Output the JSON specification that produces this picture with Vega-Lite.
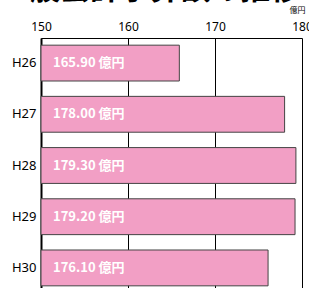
{
  "$schema": "https://vega.github.io/schema/vega-lite/v6.json",
  "autosize": "none",
  "width": 261,
  "height": 255,
  "padding": {"left": 41, "top": 38, "right": 7, "bottom": 0},
  "background": "white",
  "title": {
    "text": "一般会計予算額の推移",
    "font": "Noto Sans CJK JP",
    "fontSize": 30,
    "fontWeight": "bold",
    "color": "black",
    "anchor": "start",
    "frame": "group",
    "orient": "top",
    "offset": 0,
    "dx": -41,
    "dy": -1
  },
  "config": {
    "view": {"stroke": null},
    "font": "Noto Sans CJK JP"
  },
  "data": {
    "values": [
      {"year": "H26", "value": 165.9, "label": "165.90 億円"},
      {"year": "H27", "value": 178.0, "label": "178.00 億円"},
      {"year": "H28", "value": 179.3, "label": "179.30 億円"},
      {"year": "H29", "value": 179.2, "label": "179.20 億円"},
      {"year": "H30", "value": 176.1, "label": "176.10 億円"}
    ]
  },
  "encoding": {
    "y": {
      "field": "year",
      "type": "nominal",
      "sort": null,
      "scale": {"paddingInner": 0.3, "paddingOuter": 0.14},
      "axis": {
        "title": null,
        "ticks": false,
        "domainColor": "black",
        "domainWidth": 2,
        "labelFont": "Noto Sans",
        "labelFontSize": 13,
        "labelColor": "black",
        "labelPadding": 5
      }
    }
  },
  "layer": [
    {
      "mark": {"type": "bar", "color": "#F29FC5", "stroke": "#444444", "strokeWidth": 1},
      "encoding": {
        "x": {
          "field": "value",
          "type": "quantitative",
          "scale": {"domain": [150, 180], "zero": false, "nice": false},
          "axis": {
            "orient": "top",
            "values": [150, 160, 170, 180],
            "grid": true,
            "gridColor": "black",
            "gridWidth": 1,
            "gridOpacity": 1,
            "ticks": false,
            "domainColor": "black",
            "domainWidth": 1,
            "labelFont": "Noto Sans",
            "labelFontSize": 12,
            "labelColor": "black",
            "labelPadding": 5,
            "labelFlush": false,
            "title": "億円",
            "titleFontSize": 8,
            "titleFontWeight": "normal",
            "titleColor": "black",
            "titleAnchor": "end",
            "titleAlign": "right",
            "titleX": 264,
            "titleY": -24,
            "titleBaseline": "bottom"
          }
        },
        "x2": {"datum": 150}
      }
    },
    {
      "mark": {"type": "text", "align": "left", "baseline": "middle", "dx": 12, "color": "white", "fontWeight": "bold", "fontSize": 13, "font": "Noto Sans CJK JP"},
      "encoding": {
        "x": {"datum": 150},
        "text": {"field": "label", "type": "nominal"}
      }
    }
  ]
}
